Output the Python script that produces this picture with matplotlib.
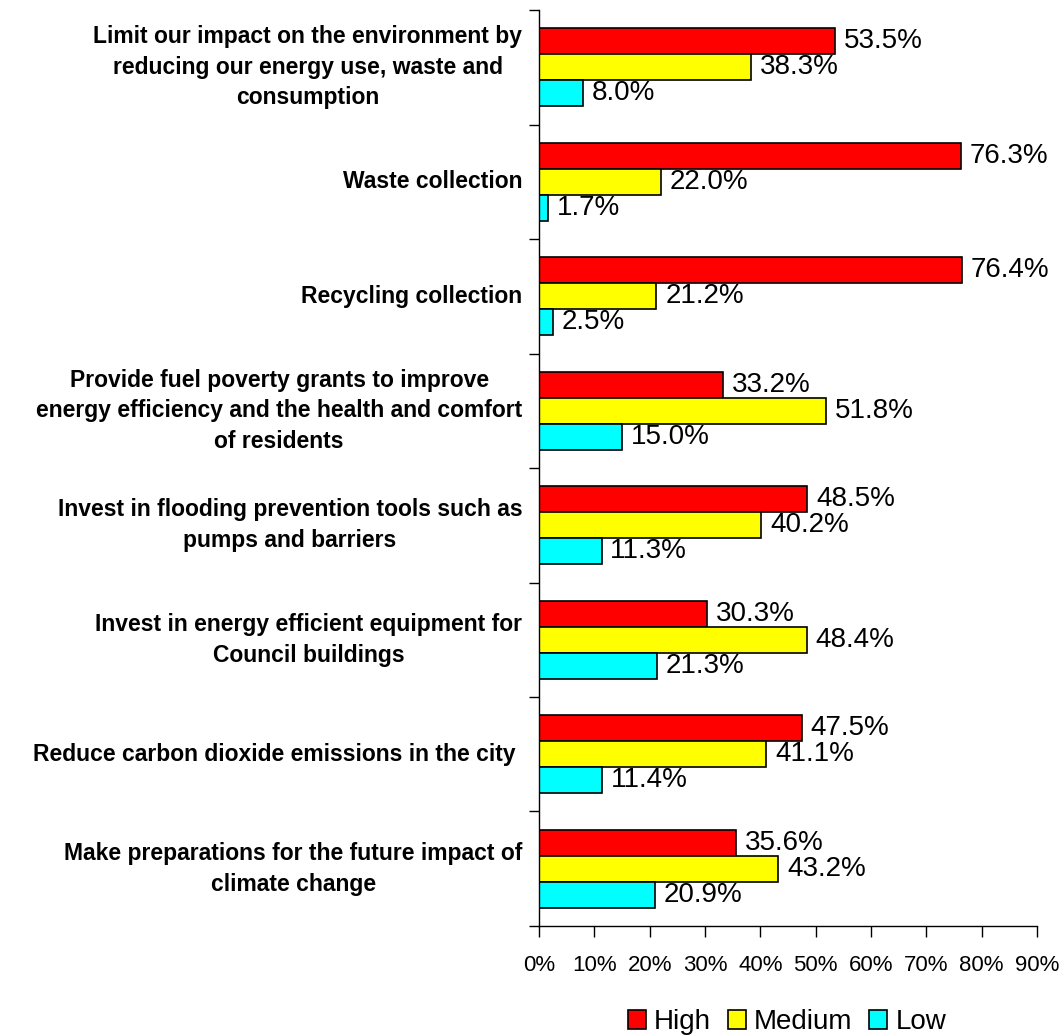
import matplotlib.pyplot as plt
import numpy as np

plt.rcParams['font.family'] = ['Liberation Sans', 'DejaVu Sans']

categories = [
    "Limit our impact on the environment by\nreducing our energy use, waste and\nconsumption",
    "Waste collection",
    "Recycling collection",
    "Provide fuel poverty grants to improve\nenergy efficiency and the health and comfort\nof residents",
    "Invest in flooding prevention tools such as\npumps and barriers",
    "Invest in energy efficient equipment for\nCouncil buildings",
    "Reduce carbon dioxide emissions in the city ",
    "Make preparations for the future impact of\nclimate change",
]
high = [53.5, 76.3, 76.4, 33.2, 48.5, 30.3, 47.5, 35.6]
medium = [38.3, 22.0, 21.2, 51.8, 40.2, 48.4, 41.1, 43.2]
low = [8.0, 1.7, 2.5, 15.0, 11.3, 21.3, 11.4, 20.9]

series = [("High", high, "#ff0000"),
          ("Medium", medium, "#ffff00"),
          ("Low", low, "#00ffff")]

fig = plt.figure(figsize=(10.62, 10.36), dpi=100)
ax = fig.add_axes([0.5075, 0.1062, 0.469, 0.8841])

n = len(categories)
y = np.arange(n)
h = 0.227

for i, (name, vals, color) in enumerate(series):
    pos = y + (i - 1) * h
    bars = ax.barh(pos, vals, height=h, color=color, edgecolor="black",
                   linewidth=1.2, label=name)
    for b, v in zip(bars, vals):
        ax.text(v + 1.6, b.get_y() + b.get_height() / 2, f"{v:.1f}%",
                va="center", ha="left", fontsize=20)

ax.set_ylim(n - 0.5, -0.5)
ax.set_xlim(0, 90)

# category names sit at the group centres, tick marks at the boundaries
ax.set_yticks(y)
ax.set_yticklabels(categories, fontsize=16.5, fontweight="bold",
                   multialignment="center", linespacing=1.42)
for lbl in ax.get_yticklabels():
    lbl.set_verticalalignment("center")
ax.set_yticks(np.arange(n + 1) - 0.5, minor=True)
ax.tick_params(axis="y", which="major", length=0, pad=12)
ax.tick_params(axis="y", which="minor", length=7, width=1, direction="out")

ax.set_xticks(np.arange(0, 91, 10))
ax.set_xticklabels([f"{t}%" for t in range(0, 91, 10)], fontsize=16)
ax.tick_params(axis="x", length=8, width=1, direction="out", pad=13)

for s in ["top", "right"]:
    ax.spines[s].set_visible(False)
for s in ["left", "bottom"]:
    ax.spines[s].set_linewidth(1)

fig.legend(loc="center", bbox_to_anchor=(0.741, 0.0135), ncol=3, frameon=False,
           fontsize=20, handlelength=0.65, handleheight=0.65, handletextpad=0.3,
           columnspacing=0.6)

fig.savefig("out.png", dpi=100)
